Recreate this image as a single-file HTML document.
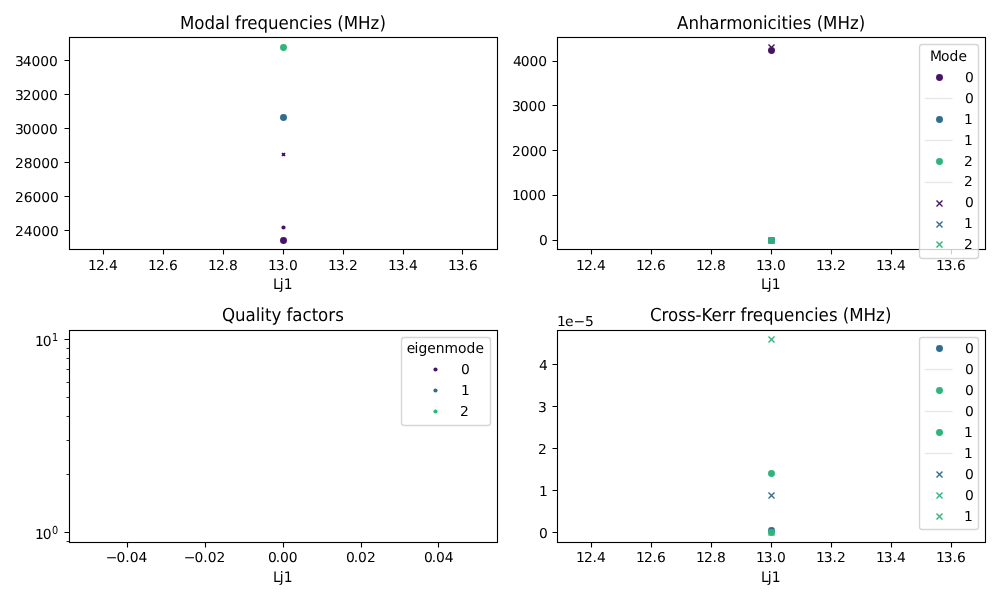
<!DOCTYPE html>
<html lang="en"><head><meta charset="utf-8"><title>Hamiltonian results</title>
<style>
html,body{margin:0;padding:0;background:#fff}
body{width:1000px;height:600px;overflow:hidden}
svg{display:block;font-family:"DejaVu Sans","Liberation Sans",sans-serif;fill:#000;text-rendering:geometricPrecision}
</style></head><body>
<svg width="1000" height="600" viewBox="0 0 1000 600">
<g>
<circle cx="283.5" cy="240.5" r="3.472" fill="#471365"/>
<circle cx="283.5" cy="117.5" r="3.472" fill="#2f6c8e"/>
<circle cx="283.5" cy="47.5" r="3.472" fill="#2fb47c"/>
<rect x="282" y="153" width="3" height="3" fill="#471365"/>
<path d="M281.889 152.889l3.222 3.222M281.889 156.111l3.222 -3.222" stroke="#471365" stroke-width="1.389" fill="none"/>
<circle cx="283.5" cy="227.5" r="2.083" fill="#471365"/>
<rect x="69.5" y="37.5" width="428" height="212" fill="none" stroke="#000" stroke-width="1.111"/>
<path d="M103.5 249.5v5M163.5 249.5v5M223.5 249.5v5M283.5 249.5v5M343.5 249.5v5M403.5 249.5v5M462.5 249.5v5M69.5 230.5h-5M69.5 196.5h-5M69.5 162.5h-5M69.5 128.5h-5M69.5 94.5h-5M69.5 60.5h-5" stroke="#000" stroke-width="1.111" fill="none"/>
<text x="88.016 95.92 104.452 108.968" y="270" font-size="13.889" transform="matrix(1 0 0 0.98 0 5.4)">12.4</text>
<text x="147.897 156.051 164.583 169.099" y="270" font-size="13.889" transform="matrix(1 0 0 0.98 0 5.4)">12.6</text>
<text x="207.897 216.051 224.583 229.099" y="270" font-size="13.889" transform="matrix(1 0 0 0.98 0 5.4)">12.8</text>
<text x="267.899 275.803 284.585 289.101" y="270" font-size="13.889" transform="matrix(1 0 0 0.98 0 5.4)">13.0</text>
<text x="327.907 335.811 344.593 349.109" y="270" font-size="13.889" transform="matrix(1 0 0 0.98 0 5.4)">13.2</text>
<text x="387.896 395.8 404.582 409.098" y="270" font-size="13.889" transform="matrix(1 0 0 0.98 0 5.4)">13.4</text>
<text x="447.909 455.813 464.595 469.111" y="270" font-size="13.889" transform="matrix(1 0 0 0.98 0 5.4)">13.6</text>
<text x="272.902 279.709 283.859" y="289" font-size="13.889" transform="matrix(1 0 0 1.04 0 -11.56)">Lj1</text>
<text x="14.924 23.674 32.424 41.174 49.924" y="236" font-size="13.889" transform="matrix(1 0 0 0.98 0 4.72)">24000</text>
<text x="14.888 23.638 32.513 41.263 50.013" y="202" font-size="13.889" transform="matrix(1 0 0 0.98 0 4.04)">26000</text>
<text x="14.903 23.653 32.528 41.278 50.028" y="168" font-size="13.889" transform="matrix(1 0 0 0.98 0 3.36)">28000</text>
<text x="14.898 22.853 31.559 40.264 48.97" y="134" font-size="13.889" transform="matrix(1 0 0 0.98 0 2.68)">30000</text>
<text x="14.89 22.845 31.551 40.256 48.962" y="100" font-size="13.889" transform="matrix(1 0 0 0.98 0 2)">32000</text>
<text x="14.879 22.835 31.542 40.248 48.954" y="66" font-size="13.889" transform="matrix(1 0 0 0.98 0 1.32)">34000</text>
<text x="179.905 194.28 204.405 214.905 225.28 229.655 234.905 241.03 247.28 257.53 268.03 278.53 288.78 299.28 308.405 313.03 323.53 332.03 337.28 343.655 358.03 370.53 379.53" y="29" font-size="16.667" transform="matrix(1 0 0 1.08 0 -2.32)">Modal frequencies (MHz)</text>
</g>
<g>
<circle cx="771.5" cy="50.5" r="3.472" fill="#471365"/>
<circle cx="771.5" cy="240.5" r="3.472" fill="#2f6c8e"/>
<circle cx="771.5" cy="240.5" r="3.472" fill="#2fb47c"/>
<path d="M768.5 44.5l6 6M768.5 50.5l6 -6" stroke="#471365" stroke-width="1.389" fill="none"/>
<path d="M768.5 237.5l6 6M768.5 243.5l6 -6" stroke="#2f6c8e" stroke-width="1.389" fill="none"/>
<path d="M768.5 237.5l6 6M768.5 243.5l6 -6" stroke="#2fb47c" stroke-width="1.389" fill="none"/>
<rect x="557.5" y="37.5" width="428" height="212" fill="none" stroke="#000" stroke-width="1.111"/>
<path d="M591.5 249.5v5M651.5 249.5v5M711.5 249.5v5M771.5 249.5v5M831.5 249.5v5M891.5 249.5v5M951.5 249.5v5M557.5 240.5h-5M557.5 195.5h-5M557.5 150.5h-5M557.5 105.5h-5M557.5 61.5h-5" stroke="#000" stroke-width="1.111" fill="none"/>
<text x="576.031 583.935 592.467 596.983" y="270" font-size="13.889" transform="matrix(1 0 0 0.98 0 5.4)">12.4</text>
<text x="635.9 644.054 652.586 657.102" y="270" font-size="13.889" transform="matrix(1 0 0 0.98 0 5.4)">12.6</text>
<text x="695.879 704.033 712.565 717.081" y="270" font-size="13.889" transform="matrix(1 0 0 0.98 0 5.4)">12.8</text>
<text x="755.914 763.818 772.6 777.116" y="270" font-size="13.889" transform="matrix(1 0 0 0.98 0 5.4)">13.0</text>
<text x="815.881 823.785 832.567 837.083" y="270" font-size="13.889" transform="matrix(1 0 0 0.98 0 5.4)">13.2</text>
<text x="875.898 883.802 892.584 897.1" y="270" font-size="13.889" transform="matrix(1 0 0 0.98 0 5.4)">13.4</text>
<text x="935.905 943.809 952.591 957.107" y="270" font-size="13.889" transform="matrix(1 0 0 0.98 0 5.4)">13.6</text>
<text x="760.908 767.715 771.865" y="289" font-size="13.889" transform="matrix(1 0 0 1.04 0 -11.56)">Lj1</text>
<text x="538.919" y="245" font-size="13.889" transform="matrix(1 0 0 0.98 0 4.9)">0</text>
<text x="511.877 519.825 528.4 537.225" y="200" font-size="13.889" transform="matrix(1 0 0 0.98 0 4)">1000</text>
<text x="511.899 520.649 529.399 538.149" y="156" font-size="13.889" transform="matrix(1 0 0 0.98 0 3.12)">2000</text>
<text x="511.911 519.824 528.486 537.149" y="111" font-size="13.889" transform="matrix(1 0 0 0.98 0 2.22)">3000</text>
<text x="512.902 520.815 529.477 538.14" y="66" font-size="13.889" transform="matrix(1 0 0 0.98 0 1.32)">4000</text>
<text x="676.881 688.506 699.006 709.256 719.381 726.256 742.256 752.381 762.881 767.506 776.631 781.506 788.006 792.381 802.631 811.381 816.631 823.006 837.381 849.881 858.631" y="29" font-size="16.667" transform="matrix(1 0 0 1.08 0 -2.32)">Anharmonicities (MHz)</text>
<rect x="919.5" y="44.5" width="59" height="214" rx="2.778" fill="#fff" fill-opacity="0.8" stroke="#ccc" stroke-opacity="0.8" stroke-width="1.389"/>
<text x="930.001 940.952 949.49 958.394" y="61" font-size="13.889" transform="matrix(1 0 0 1.04 0 -2.44)">Mode</text>
<circle cx="939.5" cy="77.5" r="3.472" fill="#471365"/>
<path d="M924.736 98.5H952.514" stroke="#808080" stroke-opacity="0.2" stroke-width="1.389" fill="none"/>
<circle cx="939.5" cy="119.5" r="3.472" fill="#2f6c8e"/>
<path d="M924.736 140.5H952.514" stroke="#808080" stroke-opacity="0.2" stroke-width="1.389" fill="none"/>
<circle cx="939.5" cy="161.5" r="3.472" fill="#2fb47c"/>
<path d="M924.736 182.5H952.514" stroke="#808080" stroke-opacity="0.2" stroke-width="1.389" fill="none"/>
<path d="M936.5 200.5l6 6M936.5 206.5l6 -6" stroke="#471365" stroke-width="1.389" fill="none"/>
<path d="M936.5 221.5l6 6M936.5 227.5l6 -6" stroke="#2f6c8e" stroke-width="1.389" fill="none"/>
<path d="M936.5 241.5l6 6M936.5 247.5l6 -6" stroke="#2fb47c" stroke-width="1.389" fill="none"/>
<text x="964.902" y="82" font-size="13.889" transform="matrix(1 0 0 0.98 0 1.64)">0</text>
<text x="964.902" y="103" font-size="13.889" transform="matrix(1 0 0 0.98 0 2.06)">0</text>
<text x="963.923" y="124" font-size="13.889" transform="matrix(1 0 0 0.98 0 2.48)">1</text>
<text x="963.923" y="145" font-size="13.889" transform="matrix(1 0 0 0.98 0 2.9)">1</text>
<text x="963.911" y="166" font-size="13.889" transform="matrix(1 0 0 0.98 0 3.32)">2</text>
<text x="963.911" y="186" font-size="13.889" transform="matrix(1 0 0 0.98 0 3.72)">2</text>
<text x="964.902" y="207" font-size="13.889" transform="matrix(1 0 0 0.98 0 4.14)">0</text>
<text x="963.923" y="228" font-size="13.889" transform="matrix(1 0 0 0.98 0 4.56)">1</text>
<text x="963.901" y="249" font-size="13.889" transform="matrix(1 0 0 0.98 0 4.98)">2</text>
</g>
<g>
<rect x="69.5" y="330.5" width="428" height="212" fill="none" stroke="#000" stroke-width="1.111"/>
<path d="M127.5 542.5v5M205.5 542.5v5M283.5 542.5v5M361.5 542.5v5M438.5 542.5v5M69.5 532.5h-5M69.5 339.5h-5" stroke="#000" stroke-width="1.111" fill="none"/>
<path d="M69.5 541.5h-3M69.5 474.5h-3M69.5 440.5h-3M69.5 416.5h-3M69.5 397.5h-3M69.5 382.5h-3M69.5 369.5h-3M69.5 358.5h-3M69.5 348.5h-3" stroke="#000" stroke-width="0.833" fill="none"/>
<text x="105.65 116.525 125.275 129.65 138.4" y="562" font-size="13.889" transform="matrix(1 0 0 0.98 0 11.24)">−0.04</text>
<text x="183.667 194.542 203.292 207.667 216.417" y="562" font-size="13.889" transform="matrix(1 0 0 0.98 0 11.24)">−0.02</text>
<text x="267.899 275.681 279.947 288.729" y="562" font-size="13.889" transform="matrix(1 0 0 0.98 0 11.24)">0.00</text>
<text x="345.887 353.755 358.064 366.932" y="562" font-size="13.889" transform="matrix(1 0 0 0.98 0 11.24)">0.02</text>
<text x="423.885 431.667 435.933 444.715" y="562" font-size="13.889" transform="matrix(1 0 0 0.98 0 11.24)">0.04</text>
<text x="272.902 279.709 283.859" y="582" font-size="13.889" transform="matrix(1 0 0 1.04 0 -23.28)">Lj1</text>
<text x="34.923 42.806" y="538.633" font-size="13.889">10</text>
<text x="51.962" y="534.273" font-size="9.722" transform="matrix(1 0 0 1.13 0 -69.456)">0</text>
<text x="34.919 42.802" y="345.502" font-size="13.889">10</text>
<text x="51.958" y="341.142" font-size="9.722" transform="matrix(1 0 0 1.13 0 -44.348)">1</text>
<text x="222.03 235.03 245.53 255.655 260.28 264.905 271.405 281.28 286.53 292.155 302.53 311.655 317.905 328.28 335.155" y="321" font-size="16.667" transform="matrix(1 0 0 1.08 0 -25.68)">Quality factors</text>
<rect x="401.5" y="337.5" width="89" height="88" rx="2.778" fill="#fff" fill-opacity="0.8" stroke="#ccc" stroke-opacity="0.8" stroke-width="1.389"/>
<text x="406.766 414.516 418.391 427.266 435.766 444.516 458.016 466.516 475.391" y="353" font-size="13.889" transform="matrix(1 0 0 1.04 0 -14.12)">eigenmode</text>
<circle cx="435.5" cy="369.5" r="2.083" fill="#471365"/>
<circle cx="435.5" cy="390.5" r="2.083" fill="#2f6c8e"/>
<circle cx="435.5" cy="411.5" r="2.083" fill="#2fb47c"/>
<text x="460.909" y="374" font-size="13.889" transform="matrix(1 0 0 0.98 0 7.48)">0</text>
<text x="460.893" y="395" font-size="13.889" transform="matrix(1 0 0 0.98 0 7.9)">1</text>
<text x="459.923" y="416" font-size="13.889" transform="matrix(1 0 0 0.98 0 8.32)">2</text>
</g>
<g>
<circle cx="771.5" cy="530.5" r="3.472" fill="#2f6c8e"/>
<circle cx="771.5" cy="532.5" r="3.472" fill="#2fb47c"/>
<circle cx="771.5" cy="473.5" r="3.472" fill="#2fb47c"/>
<path d="M768.5 492.5l6 6M768.5 498.5l6 -6" stroke="#2f6c8e" stroke-width="1.389" fill="none"/>
<path d="M768.5 529.5l6 6M768.5 535.5l6 -6" stroke="#2fb47c" stroke-width="1.389" fill="none"/>
<path d="M768.5 336.5l6 6M768.5 342.5l6 -6" stroke="#2fb47c" stroke-width="1.389" fill="none"/>
<rect x="557.5" y="330.5" width="428" height="212" fill="none" stroke="#000" stroke-width="1.111"/>
<path d="M591.5 542.5v5M651.5 542.5v5M711.5 542.5v5M771.5 542.5v5M831.5 542.5v5M891.5 542.5v5M951.5 542.5v5M557.5 532.5h-5M557.5 490.5h-5M557.5 448.5h-5M557.5 406.5h-5M557.5 364.5h-5" stroke="#000" stroke-width="1.111" fill="none"/>
<text x="576.031 583.935 592.467 596.983" y="562" font-size="13.889" transform="matrix(1 0 0 0.98 0 11.24)">12.4</text>
<text x="635.9 644.054 652.586 657.102" y="562" font-size="13.889" transform="matrix(1 0 0 0.98 0 11.24)">12.6</text>
<text x="695.879 704.033 712.565 717.081" y="562" font-size="13.889" transform="matrix(1 0 0 0.98 0 11.24)">12.8</text>
<text x="755.914 763.818 772.6 777.116" y="562" font-size="13.889" transform="matrix(1 0 0 0.98 0 11.24)">13.0</text>
<text x="815.881 823.785 832.567 837.083" y="562" font-size="13.889" transform="matrix(1 0 0 0.98 0 11.24)">13.2</text>
<text x="875.898 883.802 892.584 897.1" y="562" font-size="13.889" transform="matrix(1 0 0 0.98 0 11.24)">13.4</text>
<text x="935.898 943.802 952.584 957.1" y="562" font-size="13.889" transform="matrix(1 0 0 0.98 0 11.24)">13.6</text>
<text x="760.908 767.715 771.865" y="582" font-size="13.889" transform="matrix(1 0 0 1.04 0 -23.28)">Lj1</text>
<text x="538.919" y="538" font-size="13.889" transform="matrix(1 0 0 0.98 0 10.76)">0</text>
<text x="538.88" y="496" font-size="13.889" transform="matrix(1 0 0 0.98 0 9.92)">1</text>
<text x="537.915" y="454" font-size="13.889" transform="matrix(1 0 0 0.98 0 9.08)">2</text>
<text x="537.924" y="412" font-size="13.889" transform="matrix(1 0 0 0.98 0 8.24)">3</text>
<text x="538.888" y="370" font-size="13.889" transform="matrix(1 0 0 0.98 0 7.4)">4</text>
<text x="556.91 565.064 573.603 584.938" y="326" font-size="13.889" transform="matrix(1 0 0 0.98 0 6.52)">1e−5</text>
<text x="649.889 661.389 667.889 678.264 687.014 695.514 701.389 711.389 721.639 728.514 735.139 740.389 746.514 752.764 763.014 773.514 784.014 794.514 804.764 813.889 818.514 829.014 837.514 842.764 849.139 863.514 876.014 885.014" y="321" font-size="16.667" transform="matrix(1 0 0 1.08 0 -25.68)">Cross-Kerr frequencies (MHz)</text>
<rect x="919.5" y="337.5" width="59" height="192" rx="2.778" fill="#fff" fill-opacity="0.8" stroke="#ccc" stroke-opacity="0.8" stroke-width="1.389"/>
<circle cx="939.5" cy="348.5" r="3.472" fill="#2f6c8e"/>
<path d="M924.736 369.5H952.514" stroke="#808080" stroke-opacity="0.2" stroke-width="1.389" fill="none"/>
<circle cx="939.5" cy="390.5" r="3.472" fill="#2fb47c"/>
<path d="M924.736 411.5H952.514" stroke="#808080" stroke-opacity="0.2" stroke-width="1.389" fill="none"/>
<circle cx="939.5" cy="432.5" r="3.472" fill="#2fb47c"/>
<path d="M924.736 453.5H952.514" stroke="#808080" stroke-opacity="0.2" stroke-width="1.389" fill="none"/>
<path d="M936.5 471.5l6 6M936.5 477.5l6 -6" stroke="#2f6c8e" stroke-width="1.389" fill="none"/>
<path d="M936.5 492.5l6 6M936.5 498.5l6 -6" stroke="#2fb47c" stroke-width="1.389" fill="none"/>
<path d="M936.5 513.5l6 6M936.5 519.5l6 -6" stroke="#2fb47c" stroke-width="1.389" fill="none"/>
<text x="964.902" y="353" font-size="13.889" transform="matrix(1 0 0 0.98 0 7.06)">0</text>
<text x="964.902" y="374" font-size="13.889" transform="matrix(1 0 0 0.98 0 7.48)">0</text>
<text x="964.902" y="395" font-size="13.889" transform="matrix(1 0 0 0.98 0 7.9)">0</text>
<text x="964.902" y="416" font-size="13.889" transform="matrix(1 0 0 0.98 0 8.32)">0</text>
<text x="963.923" y="437" font-size="13.889" transform="matrix(1 0 0 0.98 0 8.74)">1</text>
<text x="963.923" y="458" font-size="13.889" transform="matrix(1 0 0 0.98 0 9.16)">1</text>
<text x="964.902" y="479" font-size="13.889" transform="matrix(1 0 0 0.98 0 9.58)">0</text>
<text x="964.902" y="500" font-size="13.889" transform="matrix(1 0 0 0.98 0 10)">0</text>
<text x="963.923" y="521" font-size="13.889" transform="matrix(1 0 0 0.98 0 10.42)">1</text>
</g>
</svg>
</body></html>
